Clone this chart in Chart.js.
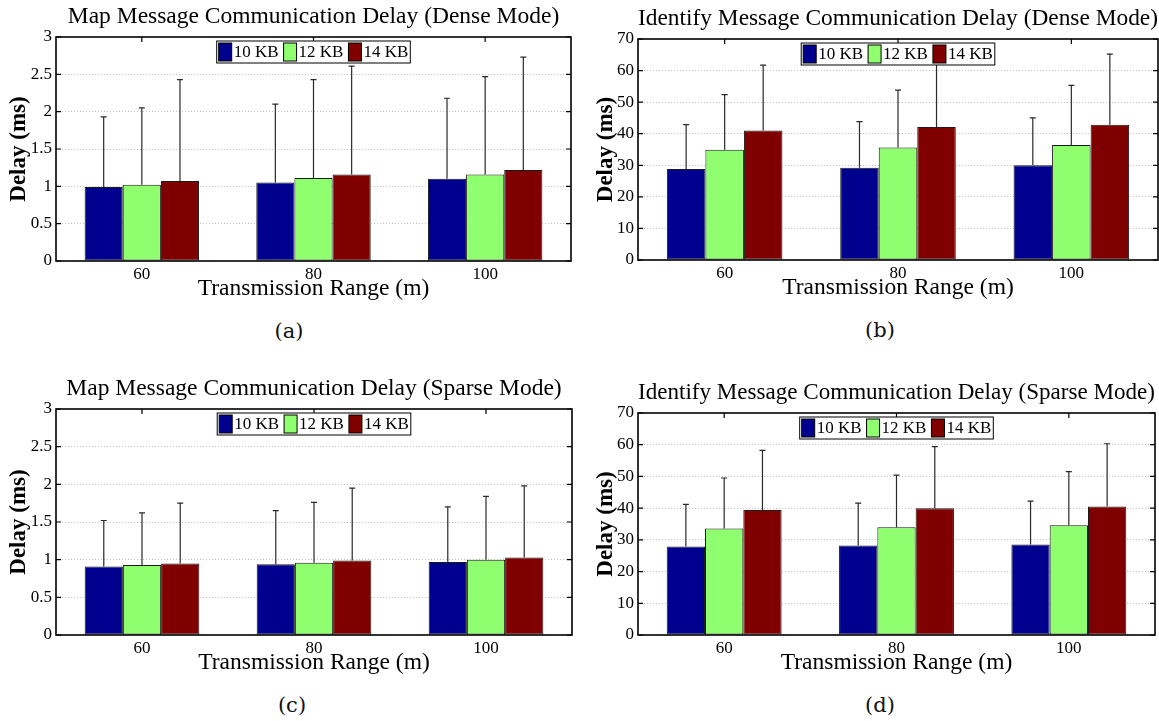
<!DOCTYPE html>
<html>
<head>
<meta charset="utf-8">
<script src="https://cdn.jsdelivr.net/npm/chart.js@4"></script>
<style>
  body { margin: 0; background: #fff; width: 1159px; height: 721px; position: relative; overflow: hidden; }
  canvas { position: absolute; }
  .cap { position: absolute; font: 21px "DejaVu Serif", serif; color: #111; transform: translate(-50%, -50%); white-space: nowrap; }
</style>
</head>
<body>
<canvas id="mapDense"></canvas>
<canvas id="idDense"></canvas>
<canvas id="mapSparse"></canvas>
<canvas id="idSparse"></canvas>
<div class="cap" style="left:289px; top:331px">(a)</div>
<div class="cap" style="left:880px; top:330px">(b)</div>
<div class="cap" style="left:292px; top:705px">(c)</div>
<div class="cap" style="left:880px; top:705px">(d)</div>
<script>
const categories = ["60", "80", "100"];
const seriesNames = ["10 KB", "12 KB", "14 KB"];
const seriesColors = ["#00008f", "#8fff70", "#800000"];

const mapTicks = [0, 0.5, 1, 1.5, 2, 2.5, 3];
const idTicks = [0, 10, 20, 30, 40, 50, 60, 70];

// mean delay per series (rows: 10 KB, 12 KB, 14 KB; cols: 60, 80, 100 m)
const mapDenseMean = [[0.99, 1.05, 1.10], [1.02, 1.11, 1.16], [1.07, 1.16, 1.22]];
const mapDenseErr  = [[0.94, 1.05, 1.08], [1.03, 1.32, 1.31], [1.36, 1.45, 1.51]];
const idDenseMean  = [[28.8, 29.2, 30.0], [34.9, 35.6, 36.4], [41.0, 42.1, 42.8]];
const idDenseErr   = [[14.1, 14.6, 15.0], [17.5, 18.2, 18.9], [20.7, 21.9, 22.4]];
const mapSparseMean = [[0.91, 0.94, 0.97], [0.93, 0.96, 1.00], [0.95, 0.99, 1.03]];
const mapSparseErr  = [[0.61, 0.71, 0.73], [0.69, 0.80, 0.84], [0.80, 0.96, 0.95]];
const idSparseMean  = [[27.9, 28.2, 28.5], [33.6, 34.0, 34.6], [39.4, 40.0, 40.5]];
const idSparseErr   = [[13.3, 13.4, 13.7], [15.9, 16.4, 16.9], [18.8, 19.4, 19.8]];

const serif = '"Liberation Serif", "Times New Roman", serif';

// error bars, box frame, inward ticks and the in-plot legend
const framePlugin = {
  id: "frame",
  afterDatasetsDraw(chart) {
    const { ctx, chartArea: a, scales: { x, y } } = chart;
    ctx.save();
    chart.data.datasets.forEach((ds, i) => {
      chart.getDatasetMeta(i).data.forEach((bar, j) => {
        const top = y.getPixelForValue(ds.data[j] + ds.errors[j]);
        ctx.strokeStyle = "#2a2a2a";
        ctx.lineWidth = 1.2;
        ctx.beginPath();
        ctx.moveTo(bar.x, bar.y);
        ctx.lineTo(bar.x, top);
        ctx.moveTo(bar.x - 3, top);
        ctx.lineTo(bar.x + 3, top);
        ctx.stroke();
      });
    });

    ctx.strokeStyle = "#000";
    ctx.lineWidth = 1.2;
    ctx.beginPath();
    y.ticks.forEach(t => {
      const py = y.getPixelForValue(t.value);
      ctx.moveTo(a.left, py); ctx.lineTo(a.left + 5, py);
      ctx.moveTo(a.right, py); ctx.lineTo(a.right - 5, py);
    });
    x.ticks.forEach((t, i) => {
      const px = x.getPixelForTick(i);
      ctx.moveTo(px, a.top); ctx.lineTo(px, a.top + 5);
    });
    ctx.stroke();
    ctx.lineWidth = 1.6;
    ctx.strokeRect(a.left, a.top, a.right - a.left, a.bottom - a.top);

    // legend
    ctx.font = "17px " + serif;
    const names = chart.data.datasets.map(d => d.label);
    const widths = names.map(n => ctx.measureText(n).width);
    const sw = 13, gap = 2, itemGap = 5, pad = 2, h = 22;
    const total = pad * 2 + widths.reduce((s, w) => s + sw + gap + w, 0) + itemGap * (names.length - 1);
    let lx = (a.left + a.right) / 2 - total / 2;
    const ly = a.top + 4;
    ctx.fillStyle = "#fff";
    ctx.fillRect(lx, ly, total, h);
    ctx.lineWidth = 1;
    ctx.strokeStyle = "#000";
    ctx.strokeRect(lx, ly, total, h);
    lx += pad;
    ctx.textBaseline = "middle";
    chart.data.datasets.forEach((ds, i) => {
      ctx.fillStyle = ds.backgroundColor;
      ctx.fillRect(lx, ly + 2, sw, h - 4);
      ctx.strokeRect(lx, ly + 2, sw, h - 4);
      ctx.fillStyle = "#000";
      ctx.fillText(names[i], lx + sw + gap, ly + h / 2 + 1);
      lx += sw + gap + widths[i] + itemGap;
    });
    ctx.restore();
  }
};

function makeChart(id, opt) {
  const el = document.getElementById(id);
  el.width = opt.w;
  el.height = opt.h;
  el.style.left = opt.left + "px";
  el.style.top = opt.top + "px";
  const yMax = opt.ticks[opt.ticks.length - 1];
  return new Chart(el, {
    type: "bar",
    data: {
      labels: categories,
      datasets: seriesNames.map((name, i) => ({
        label: name,
        data: opt.mean[i],
        errors: opt.err[i],
        backgroundColor: seriesColors[i],
        borderColor: "#1a1a1a",
        borderWidth: 1,
        borderSkipped: false,
        barPercentage: 1,
        categoryPercentage: 2 / 3
      }))
    },
    options: {
      responsive: false,
      animation: false,
      events: [],
      layout: { padding: { left: 0, right: opt.padRight, top: 0, bottom: 0 } },
      plugins: {
        legend: { display: false },
        tooltip: { enabled: false },
        title: {
          display: true,
          text: opt.title,
          fullSize: false,
          color: "#000",
          font: { family: serif, size: 23.5, weight: "normal", lineHeight: 1.2 },
          padding: { top: 3, bottom: 37 - 28.2 - 3 }
        }
      },
      scales: {
        x: {
          grid: { display: false, drawTicks: false },
          border: { display: false },
          ticks: { color: "#000", font: { family: serif, size: 17 }, padding: 3 },
          title: {
            display: true,
            text: "Transmission Range (m)",
            color: "#000",
            font: { family: serif, size: 23.5, lineHeight: 1.2 },
            padding: { top: 0, bottom: 8 }
          },
          afterFit: s => { s.height = 50; }
        },
        y: {
          min: 0,
          max: yMax,
          afterBuildTicks: s => { s.ticks = opt.ticks.map(v => ({ value: v })); },
          grid: {
            drawTicks: false,
            color: c => (c.tick && (c.tick.value === 0 || c.tick.value === yMax)) ? "rgba(0,0,0,0)" : "#c4c4c4",
            lineWidth: 1
          },
          border: { display: false, dash: [1, 2] },
          ticks: {
            color: "#000",
            font: { family: serif, size: 17 },
            padding: 4,
            callback: v => String(v)
          },
          title: {
            display: true,
            text: "Delay (ms)",
            color: "#000",
            font: { family: serif, size: 23, weight: "bold", lineHeight: 1.2 },
            padding: { top: opt.yTitlePad, bottom: 0 }
          },
          afterFit: s => { s.width = opt.leftW; }
        }
      }
    },
    plugins: [framePlugin]
  });
}

makeChart("mapDense", {
  left: 0, top: 0, w: 580, h: 311, padRight: 9, leftW: 56, yTitlePad: 5,
  title: "Map Message Communication Delay (Dense Mode)",
  ticks: mapTicks, mean: mapDenseMean, err: mapDenseErr
});
makeChart("idDense", {
  left: 580, top: 2, w: 579, h: 308, padRight: 1, leftW: 58, yTitlePad: 12,
  title: "Identify Message Communication Delay (Dense Mode)",
  ticks: idTicks, mean: idDenseMean, err: idDenseErr
});
makeChart("mapSparse", {
  left: 0, top: 372, w: 580, h: 313, padRight: 8, leftW: 56, yTitlePad: 5,
  title: "Map Message Communication Delay (Sparse Mode)",
  ticks: mapTicks, mean: mapSparseMean, err: mapSparseErr
});
makeChart("idSparse", {
  left: 580, top: 376, w: 579, h: 309, padRight: 4, leftW: 58, yTitlePad: 12,
  title: "Identify Message Communication Delay (Sparse Mode)",
  ticks: idTicks, mean: idSparseMean, err: idSparseErr
});
</script>
</body>
</html>
